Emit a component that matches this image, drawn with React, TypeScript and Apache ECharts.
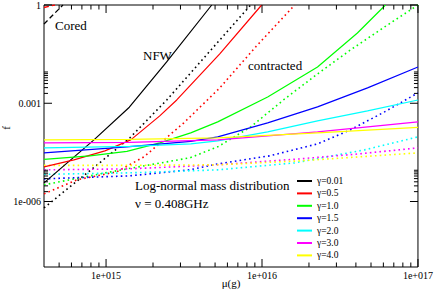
import React, { useEffect, useRef } from "react";
import * as echarts from "echarts";

// ---- axis ticks / labels ----
const xMin = 4e14;
const xMax = 1e17;
const yMin = 1e-8;
const yMax = 1;
const xTickValues = [1e15, 1e16, 1e17];
const xTickLabels = ["1e+015", "1e+016", "1e+017"];
const yTickValues = [1e-6, 1e-3, 1];
const yTickLabels = ["1e-006", "0.001", "1"];
const minorMultipliers = [2, 3, 4, 5, 6, 7, 8, 9];

// ---- legend / series names ----
const gammaLabels = ["γ=0.01", "γ=0.5", "γ=1.0", "γ=1.5", "γ=2.0", "γ=3.0", "γ=4.0"];
const gammaColors = ["#000000", "#ff0000", "#00ff00", "#0000ff", "#00ffff", "#ff00ff", "#ffff00"];

// ---- NFW (solid) curves: [mu, f] ----
const nfw001 = [[4e14, 3.71e-6], [8.36e14, 7.62e-5], [1.41e15, 7.57e-4], [2.44e15, 0.018], [4.76e15, 1]];
const nfw05 = [[4e14, 1.14e-5], [6.22e14, 1.87e-5], [9.83e14, 3.52e-5], [1.44e15, 7.62e-5], [2.21e15, 4.11e-4], [2.84e15, 1.26e-3], [5.36e15, 0.032], [9.95e15, 1]];
const nfw10 = [[4e14, 1.94e-5], [7.88e14, 2.48e-5], [1.36e15, 3.4e-5], [2.21e15, 6.17e-5], [3.49e15, 1.25e-4], [5.2e15, 2.7e-4], [1.087e16, 1.56e-3], [2.27e16, 0.01284], [4.09e16, 0.14], [6.19e16, 1]];
const nfw15 = [[4e14, 3.05e-5], [1.36e15, 4.66e-5], [3.49e15, 6.86e-5], [5.2e15, 9.4e-5], [1.087e16, 2.51e-4], [2.27e16, 7.73e-4], [4.75e16, 2.94e-3], [1e17, 0.01284]];
const nfw20 = [[4e14, 4.34e-5], [1.42e15, 4.82e-5], [3.49e15, 5.75e-5], [5.2e15, 7.1e-5], [1.087e16, 1.34e-4], [2.27e16, 2.89e-4], [4.75e16, 5.84e-4], [1e17, 1.26e-3]];
const nfw30 = [[4e14, 6.17e-5], [1.42e15, 6.39e-5], [5.2e15, 7.62e-5], [2.27e16, 1.34e-4], [1e17, 2.7e-4]];
const nfw40 = [[4e14, 7.62e-5], [1.42e15, 7.89e-5], [5.2e15, 8.77e-5], [2.27e16, 1.25e-4], [1e17, 1.83e-4]];

// ---- contracted (dotted) curves ----
const con001 = [[4e14, 6.41e-7], [1.11e15, 3.28e-5], [1.42e15, 8.77e-5], [2.45e15, 1.26e-3], [5.36e15, 0.0855], [8.46e15, 1]];
const con05 = [[4e14, 1.71e-6], [6.51e14, 4.59e-6], [1.17e15, 8.04e-6], [1.75e15, 2.31e-5], [2.35e15, 7.62e-5], [3.15e15, 2.51e-4], [5.36e15, 2.94e-3], [9.1e15, 0.0523], [1.62e16, 1]];
const con10 = [[4e14, 3.23e-6], [1.07e15, 8.04e-6], [1.91e15, 1.32e-5], [3.44e15, 2.15e-5], [5.2e15, 4.66e-5], [8.46e15, 1.9e-4], [1.4e16, 1.36e-3], [2.27e16, 7.85e-3], [3.69e16, 0.0424], [6.1e16, 0.213], [1e17, 1]];
const con15 = [[4e14, 4.92e-6], [1.42e15, 6.07e-6], [3.44e15, 9.25e-6], [5.2e15, 1.41e-5], [1.12e16, 2.48e-5], [2.27e16, 5.75e-5], [3.69e16, 1.54e-4], [6.1e16, 5.44e-4], [1e17, 2.07e-3]];
const con20 = [[4e14, 6.75e-6], [1.42e15, 7.5e-6], [5.2e15, 9.25e-6], [1.62e16, 1.51e-5], [4.54e16, 3.77e-5], [1e17, 9.4e-5]];
const con30 = [[4e14, 9.25e-6], [1.42e15, 9.93e-6], [5.2e15, 1.32e-5], [1.74e16, 2.0e-5], [4.22e16, 2.85e-5], [1e17, 4.34e-5]];
const con40 = [[4e14, 1.27e-5], [1.42e15, 1.27e-5], [5.2e15, 1.32e-5], [1.74e16, 1.74e-5], [1e17, 3.05e-5]];

// ---- cored (dashed) curves ----
const coredBlack = [[4e14, 0.263], [5.29e14, 1]];
const coredRed = [[4e14, 0.839], [4.7e14, 1]];

const nfwSets = [nfw001, nfw05, nfw10, nfw15, nfw20, nfw30, nfw40];
const conSets = [con001, con05, con10, con15, con20, con30, con40];

const FONT = "Liberation Serif";

function labelFor(values: number[], labels: string[], v: number) {
  const i = values.findIndex((t) => Math.abs(Math.log10(t) - Math.log10(v)) < 1e-6);
  return i >= 0 ? labels[i] : "";
}

export default function App() {
  const ref = useRef<HTMLDivElement>(null);
  useEffect(() => {
    if (!ref.current) return;
    const chart = echarts.init(ref.current, null, { renderer: "svg" });

    const xTicks: number[][] = [];
    xTickValues.forEach((v) => xTicks.push([v, yMin, 1]));
    [1e14, 1e15, 1e16].forEach((d) =>
      minorMultipliers.forEach((k) => {
        const v = k * d;
        if (v > xMin && v < xMax) xTicks.push([v, yMin, 0]);
      })
    );
    const yTicks: number[][] = [];
    yTickValues.forEach((v) => yTicks.push([xMin, v, 1]));
    [1e-9, 1e-6, 1e-3].forEach((d) =>
      minorMultipliers.forEach((k) => {
        const v = k * d;
        if (v > yMin && v < yMax) yTicks.push([xMin, v, 0]);
      })
    );

    const series: any[] = [];
    nfwSets.forEach((d, i) => {
      series.push({
        type: "line",
        name: gammaLabels[i],
        data: d,
        showSymbol: false,
        color: gammaColors[i],
        lineStyle: { color: gammaColors[i], width: 1.2 },
        z: 3,
      });
    });
    conSets.forEach((d, i) => {
      series.push({
        type: "line",
        name: gammaLabels[i] + " contracted",
        data: d,
        showSymbol: false,
        color: gammaColors[i],
        lineStyle: { color: gammaColors[i], width: 1.6, type: [1.6, 3.2] },
        z: 2,
      });
    });
    series.push({
      type: "line",
      name: "cored black",
      data: coredBlack,
      showSymbol: false,
      lineStyle: { color: "#000", width: 1.3, type: [5, 3] },
    });
    series.push({
      type: "line",
      name: "cored red",
      data: coredRed,
      showSymbol: false,
      lineStyle: { color: "#ff0000", width: 1.3, type: [5, 3] },
    });
    series.push({
      type: "custom",
      name: "xticks",
      data: xTicks,
      encode: { x: 0, y: 1 },
      clip: false,
      silent: true,
      z: 5,
      renderItem: (params: any, api: any) => {
        const v = api.value(0);
        const len = api.value(2) === 1 ? 8 : 4.5;
        const b = api.coord([v, yMin]);
        const t = api.coord([v, yMax]);
        return {
          type: "group",
          children: [
            { type: "line", shape: { x1: b[0], y1: b[1], x2: b[0], y2: b[1] - len }, style: { stroke: "#000", lineWidth: 1 } },
            { type: "line", shape: { x1: t[0], y1: t[1], x2: t[0], y2: t[1] + len }, style: { stroke: "#000", lineWidth: 1 } },
          ],
        };
      },
    });
    series.push({
      type: "custom",
      name: "yticks",
      data: yTicks,
      encode: { x: 0, y: 1 },
      clip: false,
      silent: true,
      z: 5,
      renderItem: (params: any, api: any) => {
        const v = api.value(1);
        const len = api.value(2) === 1 ? 8 : 4;
        const l = api.coord([xMin, v]);
        const r = api.coord([xMax, v]);
        return {
          type: "group",
          children: [
            { type: "line", shape: { x1: l[0], y1: l[1], x2: l[0] + len, y2: l[1] }, style: { stroke: "#000", lineWidth: 1 } },
            { type: "line", shape: { x1: r[0], y1: r[1], x2: r[0] - len, y2: r[1] }, style: { stroke: "#000", lineWidth: 1 } },
          ],
        };
      },
    });

    const textStyle = (size: number) => ({ font: `${size}px "${FONT}"`, fill: "#000", verticalAlign: "middle" });

    chart.setOption({
      animation: false,
      backgroundColor: "#fff",
      grid: { left: 44, right: 17, top: 5, bottom: 25, show: true, borderColor: "#000", borderWidth: 1, backgroundColor: "transparent" },
      xAxis: {
        type: "log",
        logBase: 10,
        min: xMin,
        max: xMax,
        axisLine: { show: false },
        axisTick: { show: false },
        splitLine: { show: false },
        minorTick: { show: false },
        axisLabel: {
          margin: 3,
          fontFamily: FONT,
          fontSize: 10,
          color: "#000",
          formatter: (v: number) => labelFor(xTickValues, xTickLabels, v),
        },
      },
      yAxis: {
        type: "log",
        logBase: 10,
        min: yMin,
        max: yMax,
        axisLine: { show: false },
        axisTick: { show: false },
        splitLine: { show: false },
        axisLabel: {
          margin: 3,
          fontFamily: FONT,
          fontSize: 10,
          color: "#000",
          formatter: (v: number) => labelFor(yTickValues, yTickLabels, v),
        },
      },
      legend: {
        data: gammaLabels,
        orient: "vertical",
        left: 292,
        top: 170,
        itemWidth: 15,
        itemHeight: 2,
        itemGap: 0.4,
        icon: "rect",
        selectedMode: false,
        textStyle: { fontFamily: FONT, fontSize: 9.5, lineHeight: 12, color: "#000" },
      },
      graphic: [
        { type: "text", x: 55, y: 25, style: { text: "Cored", ...textStyle(13) } },
        { type: "text", x: 143, y: 55, style: { text: "NFW", ...textStyle(13) } },
        { type: "text", x: 248, y: 65, style: { text: "contracted", ...textStyle(13) } },
        { type: "text", x: 135, y: 185, style: { text: "Log-normal mass distribution", ...textStyle(13) } },
        { type: "text", x: 135, y: 203, style: { text: "ν = 0.408GHz", ...textStyle(13) } },
        { type: "text", x: 231, y: 283, style: { text: "μ(g)", ...textStyle(11), align: "center" } },
        { type: "text", x: 6, y: 128, rotation: Math.PI / 2, style: { text: "f", ...textStyle(11), align: "center" } },
      ],
      series,
    });
    return () => chart.dispose();
  }, []);
  return <div ref={ref} style={{ position: "fixed", left: 0, top: 0, width: 436, height: 292 }} />;
}
